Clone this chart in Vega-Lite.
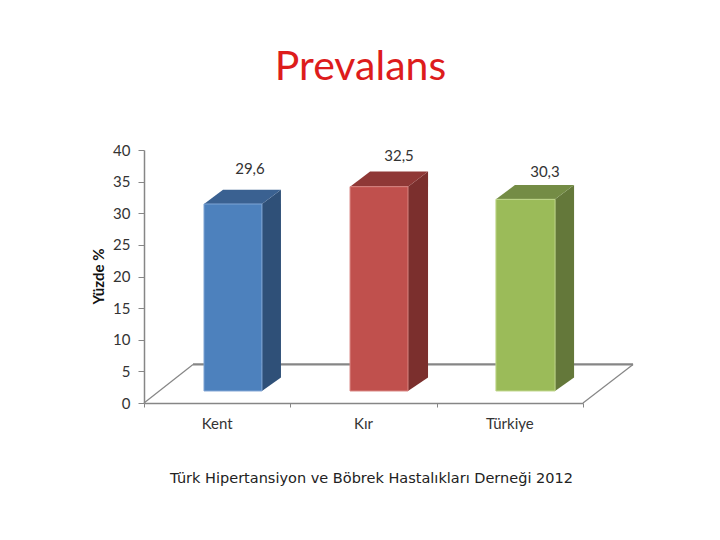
{
"$schema":"https://vega.github.io/schema/vega-lite/v6.json",
"width":439,"height":253,
"autosize":"none",
"padding":{"left":144,"top":150,"right":137,"bottom":137},
"background":"white",
"title":{"text":"Prevalans","font":"Lato","fontSize":41,"fontWeight":"normal","color":"#dd1c1c","anchor":"middle","dx":-3,"offset":22,"baseline":"alphabetic"},
"config":{"view":{"stroke":null}},
"datasets":{
"bars":[
{"category":"Kent","x":0.41,"x2":0.806,"y":31.46,"y2":1.9,"series":"Kent"},
{"category":"Kır","x":1.408,"x2":1.804,"y":34.2,"y2":1.9,"series":"Kır"},
{"category":"Türkiye","x":2.405,"x2":2.809,"y":32.2,"y2":1.9,"series":"Türkiye"}
],
"faces":[
{"series":"Kent side","x":0.806,"y":31.46,"y2":1.9},
{"series":"Kent side","x":0.936,"y":33.7,"y2":4.05},
{"series":"Kent top","x":0.41,"y":31.46,"y2":31.46},
{"series":"Kent top","x":0.54,"y":33.7,"y2":31.46},
{"series":"Kent top","x":0.806,"y":33.7,"y2":31.46},
{"series":"Kent top","x":0.936,"y":33.7,"y2":33.7},
{"series":"Kır side","x":1.804,"y":34.2,"y2":1.9},
{"series":"Kır side","x":1.941,"y":36.6,"y2":4.05},
{"series":"Kır top","x":1.408,"y":34.2,"y2":34.2},
{"series":"Kır top","x":1.545,"y":36.6,"y2":34.2},
{"series":"Kır top","x":1.804,"y":36.6,"y2":34.2},
{"series":"Kır top","x":1.941,"y":36.6,"y2":36.6},
{"series":"Türkiye side","x":2.809,"y":32.2,"y2":1.9},
{"series":"Türkiye side","x":2.939,"y":34.47,"y2":4.05},
{"series":"Türkiye top","x":2.405,"y":32.2,"y2":32.2},
{"series":"Türkiye top","x":2.535,"y":34.47,"y2":32.2},
{"series":"Türkiye top","x":2.809,"y":34.47,"y2":32.2},
{"series":"Türkiye top","x":2.939,"y":34.47,"y2":34.47}
],
"floorEdges":[
{"edge":"left","x":0,"y":0},{"edge":"left","x":0.335,"y":6.1},
{"edge":"right","x":3,"y":0},{"edge":"right","x":3.342,"y":6.1}
],
"floorBack":[{"x":0.335,"y":6.1},{"x":3.342,"y":6.1}],
"values":[
{"x":0.724,"y":37.0,"label":"29,6"},
{"x":1.743,"y":39.0,"label":"32,5"},
{"x":2.74,"y":36.5,"label":"30,3"}
],
"cats":[{"x":0.5,"y":0,"label":"Kent"},{"x":1.5,"y":0,"label":"Kır"},{"x":2.5,"y":0,"label":"Türkiye"}]
},
"encoding":{
"x":{"field":"x","type":"quantitative",
"scale":{"domain":[0,3],"nice":false,"zero":false},
"axis":{"values":[0,1,2,3],"labels":false,"grid":false,"tickSize":4,"tickColor":"#868686","domainColor":"#868686","domainWidth":1.5,
"title":"Türk Hipertansiyon ve Böbrek Hastalıkları Derneği 2012","titleFont":"DejaVu Sans","titleFontSize":14.5,"titleFontWeight":"normal","titleColor":"#222222","titleX":227,"titleY":75,"titleBaseline":"middle","titleAlign":"center"}},
"y":{"field":"y","type":"quantitative",
"scale":{"domain":[0,40],"nice":false,"zero":false},
"axis":{"values":[0,5,10,15,20,25,30,35,40],"grid":false,"tickSize":6,"tickColor":"#868686","domainColor":"#868686","domainWidth":1.5,"labelFont":"Lato","labelFontSize":15,"labelColor":"#333333","labelPadding":8,
"title":"Yüzde %","titleFont":"Lato","titleFontSize":15,"titleFontWeight":"bold","titleColor":"#111111","titleX":-46,"titleY":126,"titleBaseline":"middle","titleAlign":"center"}}
},
"layer":[
{"data":{"name":"floorEdges"},"mark":{"type":"line","color":"#868686","strokeWidth":1.2},"encoding":{"detail":{"field":"edge"}}},
{"data":{"name":"floorBack"},"mark":{"type":"line","color":"#868686","strokeWidth":2.2},"encoding":{}},
{"data":{"name":"faces"},"mark":{"type":"area","interpolate":"linear"},
"encoding":{"y2":{"field":"y2"},"color":{"field":"series","type":"nominal","legend":null,"scale":{"domain":["Kent side","Kent top","Kır side","Kır top","Türkiye side","Türkiye top"],"range":["#2f5078","#3a6191","#7b2f2d","#8f3836","#64783a","#748c45"]}}}},
{"data":{"name":"bars"},"mark":{"type":"rect","strokeWidth":1},
"encoding":{"x2":{"field":"x2"},"y2":{"field":"y2"},
"fill":{"field":"series","type":"nominal","legend":null,"scale":{"domain":["Kent","Kır","Türkiye"],"range":["#4d81bd","#c0504d","#9bbb59"]}},
"stroke":{"field":"series","type":"nominal","legend":null,"scale":{"domain":["Kent","Kır","Türkiye"],"range":["#7fa5d4","#d98481","#bfd68a"]}}}},
{"data":{"name":"values"},"mark":{"type":"text","font":"Lato","fontSize":15,"color":"#333333","align":"center","baseline":"middle"},"encoding":{"text":{"field":"label"}}},
{"data":{"name":"cats"},"mark":{"type":"text","font":"Lato","fontSize":15,"color":"#333333","align":"center","baseline":"middle","dy":21},"encoding":{"text":{"field":"label"}}}
]
}
